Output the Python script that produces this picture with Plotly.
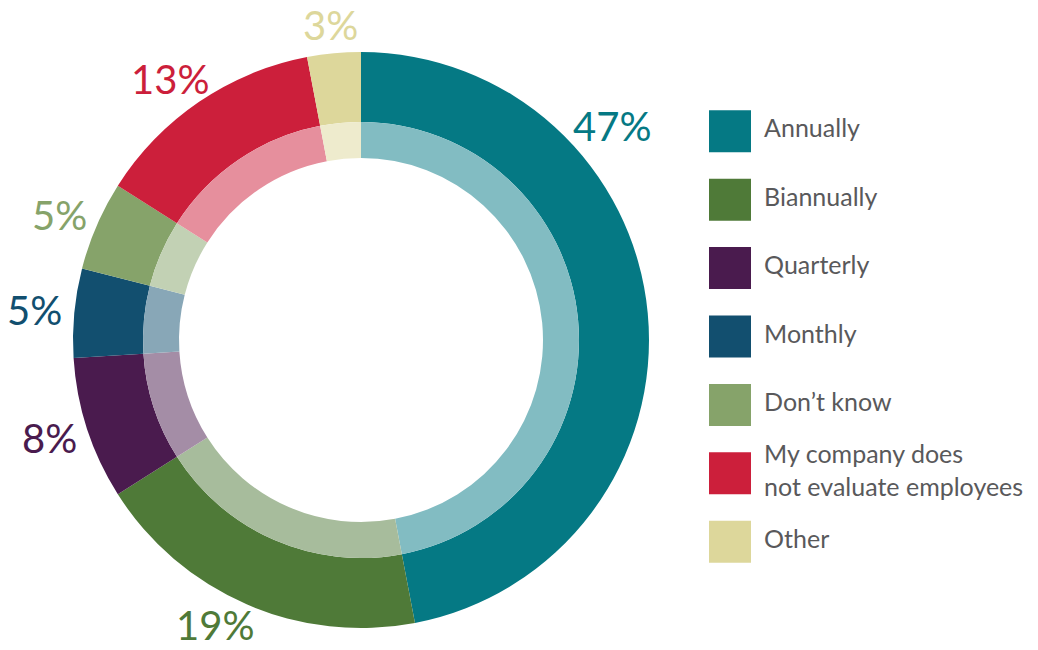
import math
import plotly.graph_objects as go

categories = ["Annually", "Biannually", "Quarterly", "Monthly", "Don\u2019t know",
              "My company does not evaluate employees", "Other"]
legend_labels = ["Annually", "Biannually", "Quarterly", "Monthly", "Don\u2019t know",
                 "My company does<br>not evaluate employees", "Other"]
values = [47, 19, 8, 5, 5, 13, 3]

colors = ["#057984", "#4F7A38", "#4A1B4E", "#124F6F", "#86A36A", "#CC1F3B", "#DDD79B"]

# where inside each slice's angular span the % label sits (0 = start, 1 = end)
label_frac = [0.28, 0.53, 0.5, 0.5, 0.5, 0.5, 0.5]


def lighten(hex_color, f=0.5):
    h = hex_color.lstrip("#")
    r, g, b = (int(h[i:i + 2], 16) for i in (0, 2, 4))
    r, g, b = (round(c + (255 - c) * f) for c in (r, g, b))
    return f"#{r:02X}{g:02X}{b:02X}"


light_colors = [lighten(c) for c in colors]

W, H = 1038, 650
cx, cy = 361, 340
r_out, r_mid, r_hole = 288, 218, 182
r_label = 303          # radius where the label box begins
char_half_w = 12.5     # approx half width per character of the % labels
half_h = 13            # approx half glyph height of the % labels

font_family = "Lato, 'Open Sans', sans-serif"

fig = go.Figure()

fig.add_trace(go.Pie(
    labels=categories, values=values, sort=False, direction="clockwise", rotation=0,
    hole=r_mid / r_out,
    marker=dict(colors=colors, line=dict(width=0)),
    textinfo="none",
    domain=dict(x=[(cx - r_out) / W, (cx + r_out) / W],
                y=[(H - cy - r_out) / H, (H - cy + r_out) / H]),
    showlegend=False, hoverinfo="label+percent",
))

fig.add_trace(go.Pie(
    labels=categories, values=values, sort=False, direction="clockwise", rotation=0,
    hole=r_hole / r_mid,
    marker=dict(colors=light_colors, line=dict(width=0)),
    textinfo="none",
    domain=dict(x=[(cx - r_mid) / W, (cx + r_mid) / W],
                y=[(H - cy - r_mid) / H, (H - cy + r_mid) / H]),
    showlegend=False, hoverinfo="label+percent",
))

# percentage labels outside the ring, placed from the values
total = sum(values)
cum = 0
annotations = []
for v, c, f in zip(values, colors, label_frac):
    a0 = cum / total * 2 * math.pi
    a1 = (cum + v) / total * 2 * math.pi
    cum += v
    a = a0 + (a1 - a0) * f
    txt = f"{v}%"
    hw = char_half_w * len(txt)
    px = cx + (r_label + hw) * math.sin(a)
    py = cy - (r_label + half_h) * math.cos(a)
    annotations.append(dict(
        x=px / W, y=1 - py / H, xref="paper", yref="paper",
        text=txt, showarrow=False, xanchor="center", yanchor="middle",
        height=36, valign="middle",
        font=dict(size=40, color=c, family=font_family),
    ))

# custom legend with large square swatches
fig.add_trace(go.Scatter(
    x=[0] * len(categories), y=list(range(len(categories))),
    mode="markers",
    marker=dict(symbol="square", size=42, color=colors, line=dict(width=0)),
    xaxis="x", yaxis="y", showlegend=False, hoverinfo="skip",
))
fig.add_trace(go.Scatter(
    x=[0.62] * len(categories), y=list(range(len(categories))),
    mode="text",
    text=legend_labels, textposition="middle right",
    textfont=dict(size=25, color="#59595B", family=font_family),
    xaxis="x", yaxis="y", showlegend=False, hoverinfo="skip",
))

fig.update_layout(
    width=W, height=H,
    margin=dict(l=0, r=0, t=0, b=0),
    paper_bgcolor="white", plot_bgcolor="rgba(0,0,0,0)",
    xaxis=dict(domain=[675 / W, 1], range=[-1, 5.6], visible=False, fixedrange=True),
    yaxis=dict(domain=[(H - 576) / H, (H - 97) / H], range=[6.5, -0.5],
               visible=False, fixedrange=True),
    font=dict(family=font_family),
    annotations=annotations,
)

fig.write_html("out.html")
